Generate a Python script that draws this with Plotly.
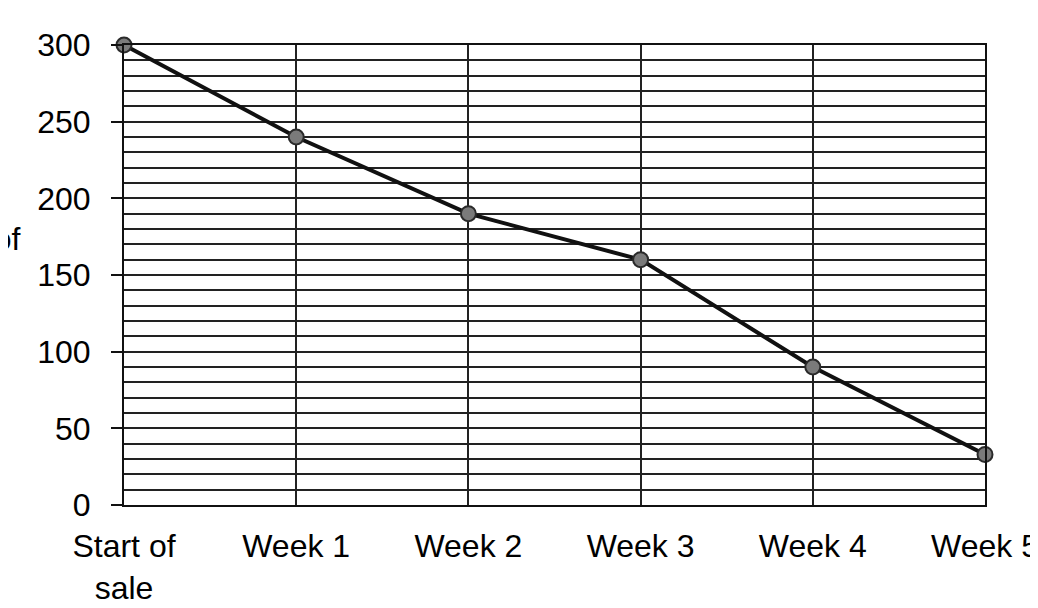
import plotly.graph_objects as go

# Data
periods = ['Start of<br>sale', 'Week 1', 'Week 2', 'Week 3', 'Week 4', 'Week 5']
tickets_left = [300, 240, 190, 160, 90, 33]
y_ticks = [0, 50, 100, 150, 200, 250, 300]

positions = list(range(len(periods)))
font_family = 'Liberation Sans, Arial, sans-serif'
grid_color = '#222222'

fig = go.Figure()
fig.add_trace(go.Scatter(
    x=positions, y=tickets_left, mode='lines+markers',
    line=dict(color='#111111', width=4),
    marker=dict(size=15, color='#7a7a7a', line=dict(color='#2a2a2a', width=2)),
    cliponaxis=False, showlegend=False,
))

# Partly visible axis title on the left edge
fig.add_annotation(
    text='Number of<br>tickets', xref='paper', yref='y', x=0, y=160,
    xanchor='right', yanchor='middle', xshift=-101, showarrow=False,
    align='center', font=dict(size=32, color='black', family=font_family),
)

# page body adds 8px on each side, so the figure is a bit smaller than the window
fig.update_layout(
    width=1022, height=592,
    margin=dict(l=116, r=45, t=37, b=95),
    plot_bgcolor='white', paper_bgcolor='white',
    font=dict(family=font_family, size=32, color='black'),
)
fig.update_xaxes(
    range=[0, 5], tickvals=positions, ticktext=periods,
    showgrid=True, gridcolor=grid_color, gridwidth=1.6,
    showline=True, linecolor='#111111', linewidth=2, mirror=True,
    ticks='', ticklabelstandoff=12, zeroline=False,
    automargin=False, ticklabeloverflow='allow',
)
fig.update_yaxes(
    range=[0, 300], tickvals=y_ticks,
    showgrid=True, gridcolor=grid_color, gridwidth=1.6,
    minor=dict(dtick=10, showgrid=True, gridcolor=grid_color, gridwidth=1.6),
    showline=True, linecolor='#111111', linewidth=2, mirror=True,
    ticks='outside', ticklen=11, tickcolor='#111111', tickwidth=1.6,
    ticklabelstandoff=14, zeroline=False, automargin=False,
)

fig.write_html('out.html')
